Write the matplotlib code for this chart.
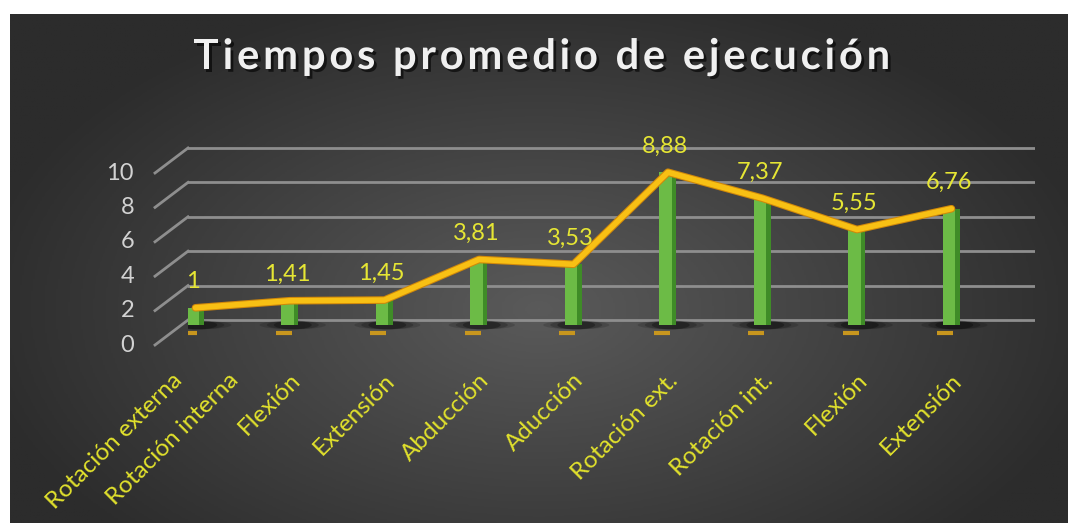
import numpy as np
import matplotlib.pyplot as plt
import matplotlib.patheffects as pe
from matplotlib.colors import LinearSegmentedColormap
from matplotlib.patches import Ellipse
from matplotlib.transforms import ScaledTranslation, blended_transform_factory

# Datos
categorias = ["Rotación externa", "Rotación interna", "Flexión", "Extensión",
              "Abducción", "Aducción", "Rotación ext.", "Rotación int.",
              "Flexión", "Extensión"]
tiempos = [1, 1.41, 1.45, 3.81, 3.53, 8.88, 7.37, 5.55, 6.76]
marcas_y = [0, 2, 4, 6, 8, 10]
titulo = "Tiempos promedio de ejecución"

fig = plt.figure(figsize=(10.68, 5.23), dpi=100, facecolor="white")

# fondo oscuro con degradado radial
bg = fig.add_axes([10 / 1068, 0, 1 - 10 / 1068, 1 - 14 / 523])
yy, xx = np.mgrid[0:1:300j, 0:1:600j]
r = np.sqrt(((xx - 0.5) / 0.75) ** 2 + ((yy - 0.58) / 0.9) ** 2)
cmap_bg = LinearSegmentedColormap.from_list("bg", ["#5a5a5a", "#2c2c2c"])
bg.imshow(r, cmap=cmap_bg, aspect="auto", extent=[0, 1, 0, 1], vmin=0, vmax=0.72)
bg.axis("off")

# ejes del grafico (0 a 325 px, 17.2 px por unidad)
px = 17.2
ax = fig.add_axes([188 / 1068, 1 - (325 + 1.5 * px) / 523, 847 / 1068, 12 * px / 523])
ax.set_xlim(-0.079, 8.884)
ax.set_ylim(-1.5, 10.5)
ax.axis("off")

def mover(dx, dy):
    return ScaledTranslation(dx / 100, dy / 100, fig.dpi_scale_trans)

trans_grid = blended_transform_factory(ax.transAxes, ax.transData) + mover(0, 5)
for v in marcas_y:
    ax.plot([0, 1], [v, v], color="#8e8e8e", lw=2, transform=trans_grid, zorder=1)
    ax.plot([-33 / 847, 0], [v - 25 / px, v], color="#8e8e8e", lw=2,
            transform=trans_grid, clip_on=False, zorder=1)
    ax.text(-54 / 847, v - 25 / px, str(v), transform=trans_grid, ha="right",
            va="center", color="#d2d2d2", fontsize=17, family="Lato")

x = np.arange(len(tiempos))

# sombras bajo las columnas
for xi in x:
    for w, a in [(0.7, 0.15), (0.55, 0.2), (0.4, 0.3)]:
        ax.add_patch(Ellipse((xi + 0.03, 0.0), w, 0.5, color="black", alpha=a,
                             lw=0, zorder=2))

# columnas (frente + lateral)
ax.bar(x, tiempos, width=0.18, color="#6cbb46", zorder=3)
ax.bar(x + 0.065, tiempos, width=0.05, color="#3f8c27", zorder=3.1)

# guiones naranjas del plano frontal
ax.plot(x, np.zeros(len(x)), ls="none", marker="_", ms=11, mew=3, color="#c8961e",
        transform=ax.transData + mover(-6, -8), zorder=2.5)

# linea
ax.plot(x, tiempos, color="#f8c014", lw=4, zorder=5, solid_capstyle="round",
        path_effects=[pe.Stroke(linewidth=5.5, foreground="#d0880a"), pe.Normal()])

for xi, v in zip(x, tiempos):
    ax.annotate(f"{v:g}".replace(".", ","), (xi, v), xytext=(-2, 19),
                textcoords="offset points", ha="center", va="center",
                color="#e6e634", fontsize=17, family="Lato", zorder=6)

# etiquetas de categorias
pos = np.arange(len(categorias)) - 1.0
pos[:2] = [-0.25, 0.35]
for p, c in zip(pos, categorias):
    ax.text(p, 0, c, transform=ax.transData + mover(7, -52), rotation=45,
            rotation_mode="anchor", ha="right", va="center", color="#e2e22c",
            fontsize=17.5, family="Lato", clip_on=False)

# titulo con espaciado entre letras
r_ = fig.canvas.get_renderer()
fuente = dict(fontsize=30, fontweight="bold", family="Lato")

def ancho(s):
    t = fig.text(0, 0, s, **fuente)
    w = t.get_window_extent(r_).width
    t.remove()
    return w

base = ancho("HH")
avances = [ancho("H" + ch + "H") - base for ch in titulo]
espacio = 3.8
total = sum(avances) + espacio * (len(titulo) - 1)
xc = 542 - total / 2
for ch, a in zip(titulo, avances):
    fig.text(xc / 1068, 1 - 57 / 523, ch, ha="left", va="center", color="#f0f0f0",
             path_effects=[pe.withSimplePatchShadow(offset=(2, -2), shadow_rgbFace="black", alpha=0.6)],
             **fuente)
    xc += a + espacio

fig.savefig("out.png", dpi=100, facecolor="white")
